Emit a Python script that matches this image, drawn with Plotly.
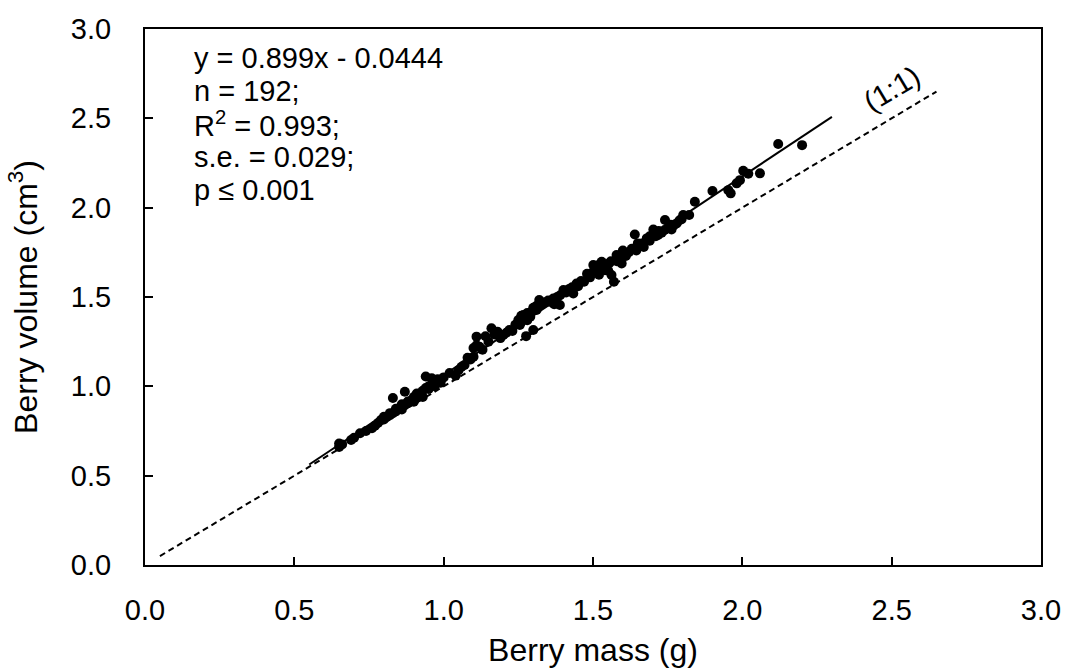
import plotly.graph_objects as go

pts = [
    (0.65, 0.660), (0.65, 0.680), (0.66, 0.675), (0.69, 0.700), (0.70, 0.712),
    (0.72, 0.737), (0.74, 0.750), (0.76, 0.765), (0.77, 0.780), (0.78, 0.795),
    (0.79, 0.811), (0.80, 0.815), (0.81, 0.828), (0.82, 0.839), (0.83, 0.850),
    (0.83, 0.935), (0.84, 0.860), (0.85, 0.877), (0.86, 0.870), (0.87, 0.895),
    (0.87, 0.970), (0.88, 0.905), (0.89, 0.920), (0.90, 0.914), (0.91, 0.935),
    (0.92, 0.950), (0.92, 0.960), (0.93, 0.975), (0.93, 0.940), (0.94, 0.990),
    (0.94, 1.055), (0.95, 1.000), (0.95, 0.985), (0.96, 1.045), (0.96, 1.010),
    (0.97, 1.000), (0.98, 1.040), (0.99, 1.020), (1.00, 1.050), (1.02, 1.075),
    (1.04, 1.060), (1.05, 1.090), (1.06, 1.110), (1.07, 1.120), (1.08, 1.160),
    (1.09, 1.150), (1.10, 1.166), (1.10, 1.215), (1.11, 1.230), (1.11, 1.278),
    (1.12, 1.222), (1.13, 1.205), (1.14, 1.280), (1.15, 1.250), (1.16, 1.325),
    (1.17, 1.290), (1.18, 1.306), (1.19, 1.270), (1.20, 1.287), (1.21, 1.300),
    (1.22, 1.315), (1.23, 1.310), (1.24, 1.345), (1.25, 1.371), (1.255, 1.343),
    (1.26, 1.360), (1.267, 1.399), (1.27, 1.380), (1.276, 1.281), (1.28, 1.410),
    (1.29, 1.390), (1.295, 1.418), (1.30, 1.315), (1.30, 1.440), (1.311, 1.427),
    (1.32, 1.483), (1.33, 1.460), (1.34, 1.470), (1.356, 1.473), (1.367, 1.492),
    (1.37, 1.460), (1.38, 1.500), (1.389, 1.455), (1.39, 1.510), (1.401, 1.539),
    (1.41, 1.525), (1.42, 1.545), (1.434, 1.520), (1.445, 1.576), (1.45, 1.560),
    (1.46, 1.590), (1.47, 1.585), (1.484, 1.623), (1.49, 1.610), (1.50, 1.640),
    (1.501, 1.679), (1.51, 1.655), (1.52, 1.625), (1.529, 1.697), (1.53, 1.670),
    (1.54, 1.650), (1.551, 1.647), (1.555, 1.690), (1.562, 1.623), (1.57, 1.585),
    (1.579, 1.735), (1.58, 1.700), (1.59, 1.715), (1.596, 1.688), (1.60, 1.760),
    (1.61, 1.730), (1.62, 1.750), (1.63, 1.770), (1.64, 1.850), (1.645, 1.760),
    (1.663, 1.800), (1.67, 1.780), (1.68, 1.828), (1.69, 1.815), (1.702, 1.878),
    (1.71, 1.840), (1.718, 1.847), (1.73, 1.860), (1.741, 1.931), (1.75, 1.885),
    (1.763, 1.878), (1.77, 1.900), (1.78, 1.912), (1.797, 1.936), (1.802, 1.959),
    (1.822, 1.959), (1.841, 2.033), (1.900, 2.093), (1.953, 2.098), (1.961, 2.080),
    (1.981, 2.136), (1.992, 2.154), (2.003, 2.207), (2.020, 2.190), (2.059, 2.192),
    (2.120, 2.356), (2.200, 2.350),
    (0.80, 0.830), (0.82, 0.850), (0.84, 0.875), (0.86, 0.900), (0.88, 0.915),
    (0.90, 0.940), (0.91, 0.960), (0.97, 1.030), (1.26, 1.395), (1.28, 1.370),
    (1.31, 1.450), (1.35, 1.480), (1.43, 1.555), (1.48, 1.630), (1.52, 1.680),
    (1.56, 1.700), (1.60, 1.735), (1.65, 1.800), (1.66, 1.790), (1.69, 1.840),
    (1.72, 1.870), (1.74, 1.875), (1.76, 1.905), (1.79, 1.930),
]
berry_mass = [p[0] for p in pts]
berry_volume = [p[1] for p in pts]

# Regression line as drawn, and the 1:1 reference line
fit_x = [0.55, 2.30]
fit_slope = 1.112
fit_intercept = -0.049
fit_y = [fit_slope * v + fit_intercept for v in fit_x]
one_x = [0.05, 2.65]
one_y = [0.05, 2.65]

stats_lines = ["y = 0.899x - 0.0444", "n = 192;", "R<sup>2</sup> = 0.993;",
               "s.e. = 0.029;", "p ≤ 0.001"]
stats_y = [2.836, 2.651, 2.467, 2.282, 2.097]

tick_vals = [0.0, 0.5, 1.0, 1.5, 2.0, 2.5, 3.0]
tick_text = ["0.0", "0.5", "1.0", "1.5", "2.0", "2.5", "3.0"]

FONT = "Liberation Sans, Arial, sans-serif"

fig = go.Figure()
fig.add_trace(go.Scatter(x=one_x, y=one_y, mode="lines",
                         line=dict(color="black", width=2, dash="6px,4px"),
                         showlegend=False, hoverinfo="skip"))
fig.add_trace(go.Scatter(x=fit_x, y=fit_y, mode="lines",
                         line=dict(color="black", width=2),
                         showlegend=False, hoverinfo="skip"))
fig.add_trace(go.Scatter(x=berry_mass, y=berry_volume, mode="markers",
                         marker=dict(color="black", size=10),
                         showlegend=False))

for txt, yy in zip(stats_lines, stats_y):
    fig.add_annotation(x=0.157, y=yy, xref="x", yref="y", text=txt,
                       showarrow=False, xanchor="left", yanchor="middle",
                       font=dict(family=FONT, size=29, color="black"))

fig.add_annotation(x=2.50, y=2.665, xref="x", yref="y", text="(1:1)",
                   showarrow=False, textangle=-31, xanchor="center", yanchor="middle",
                   font=dict(family=FONT, size=29, color="black"))

axis_common = dict(range=[0, 3], tickvals=tick_vals, ticktext=tick_text,
                   showline=True, linecolor="black", linewidth=2, mirror=True,
                   ticks="inside", ticklen=8, tickwidth=2, tickcolor="black",
                   showgrid=False, zeroline=False,
                   tickfont=dict(family=FONT, size=29, color="black"))

fig.update_xaxes(**axis_common, ticklabelstandoff=18,
                 title=dict(text="Berry mass (g)", standoff=14,
                            font=dict(family=FONT, size=32, color="black")))
fig.update_yaxes(**axis_common, ticklabelstandoff=26,
                 title=dict(text="Berry volume (cm<sup>3</sup>)", standoff=24,
                            font=dict(family=FONT, size=32, color="black")))

fig.update_layout(width=1067, height=668,
                  margin=dict(l=145, r=26, t=29, b=103, autoexpand=False),
                  plot_bgcolor="white", paper_bgcolor="white",
                  font=dict(family=FONT, color="black"))

fig.write_html("out.html")
